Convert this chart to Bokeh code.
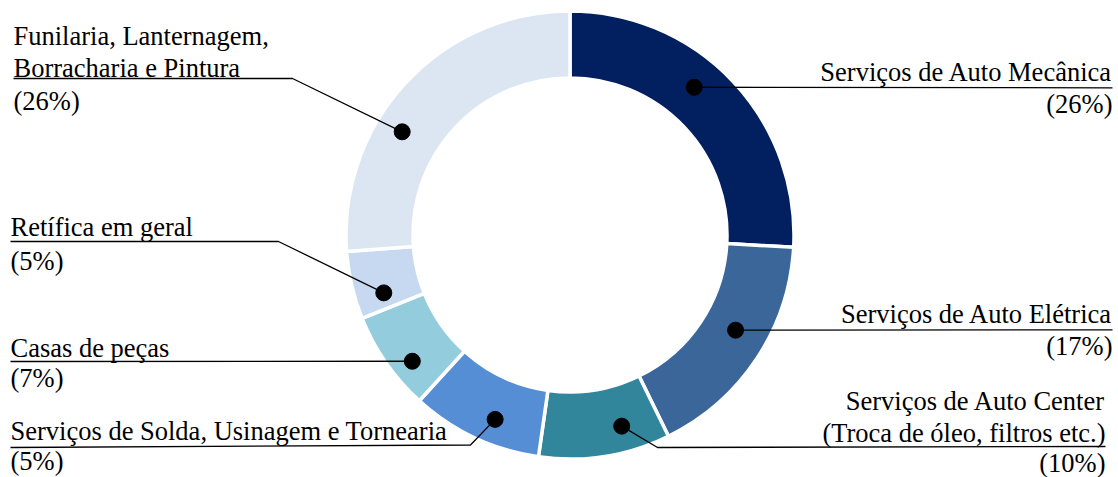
import math
from bokeh.plotting import figure
from bokeh.models import Range1d
from bokeh.core.properties import value
from bokeh.embed import file_html
from bokeh.resources import INLINE

# ---------------- data ----------------
categories = [
    "Serviços de Auto Mecânica",
    "Serviços de Auto Elétrica",
    "Serviços de Auto Center (Troca de óleo, filtros etc.)",
    "Serviços de Solda, Usinagem e Tornearia",
    "Casas de peças",
    "Retífica em geral",
    "Funilaria, Lanternagem, Borracharia e Pintura",
]
shares = [25.9, 16.9, 9.5, 9.5, 7.2, 4.9, 26.2]
pct_labels = ["(26%)", "(17%)", "(10%)", "(5%)", "(7%)", "(5%)", "(26%)"]
name_lines = [
    ["Serviços de Auto Mecânica"],
    ["Serviços de Auto Elétrica"],
    ["Serviços de Auto Center", "(Troca de óleo, filtros etc.)"],
    ["Serviços de Solda, Usinagem e Tornearia"],
    ["Casas de peças"],
    ["Retífica em geral"],
    ["Funilaria, Lanternagem,", "Borracharia e Pintura"],
]
colors = ["#022060", "#3B6699", "#31869B", "#558ED5", "#93CDDD", "#C6D9F1", "#DCE6F2"]

# ---------------- layout (image pixel coords) ----------------
W, H = 1118, 477
def px(X):
    return X
def py(Y):
    return H - Y

CX, CY = px(569.5), py(234.5)
R_OUT, R_IN = 222.5, 158.5
dot_frac = [0.43, 0.44, 0.32, 0.41, 0.35, 0.26, 0.38]
dot_rad = [193, 191, 198, 199, 202, 195, 197]
lab_side = ["right", "right", "right", "left", "left", "left", "left"]
lab_x = [1112, 1112, 1105, 10, 10, 10, 13]
lab_uy = [87.3, 329.3, 446, 447, 361, 241, 78]
lab_elbow = [None, None, (657, 447), (470, 444.5), None, (278, 241), (292, 78)]
name_gap = [8, 8.6, 6, 9, 6.5, 7, 3.5]
pct_gap = [24, 24, 23.5, 20.5, 24, 26.5, 30]
LINE_H = 32
BASE_SHIFT = 7.5
FONT = "Liberation Serif"
FSIZE = "26.5px"

p = figure(width=W, height=H, output_backend="svg", toolbar_location=None,
           x_range=Range1d(0, W), y_range=Range1d(0, H), min_border=0)
p.axis.visible = False
p.grid.visible = False
p.outline_line_color = None
p.background_fill_color = "white"
p.border_fill_color = "white"

total = sum(shares)
cum = 0.0
starts, ends, dots = [], [], []
for i, s in enumerate(shares):
    a0 = cum / total * 2 * math.pi
    a1 = (cum + s) / total * 2 * math.pi
    starts.append(math.pi / 2 - a0)
    ends.append(math.pi / 2 - a1)
    am = a0 + dot_frac[i] * (a1 - a0)
    dots.append((CX + dot_rad[i] * math.sin(am), CY + dot_rad[i] * math.cos(am)))
    cum += s

p.annular_wedge(x=CX, y=CY, inner_radius=R_IN - 1.5, outer_radius=R_OUT + 1.5,
                inner_radius_units="screen", outer_radius_units="screen",
                start_angle=starts, end_angle=ends, direction="clock",
                fill_color=colors, line_color="white", line_width=3.5)

# leader lines
for i in range(len(shares)):
    dx, dy = dots[i]
    uy = py(lab_uy[i])
    xs, ys = [dx], [dy]
    if lab_elbow[i] is not None:
        ex, ey = lab_elbow[i]
        xs.append(px(ex)); ys.append(py(ey))
    xs.append(px(lab_x[i])); ys.append(uy)
    p.line(xs, ys, line_color="black", line_width=1.3)

p.scatter([d[0] for d in dots], [d[1] for d in dots], size=16,
          fill_color="black", line_color="black")

# labels
for i in range(len(shares)):
    align = "right" if lab_side[i] == "right" else "left"
    uy_img = lab_uy[i]
    lines = name_lines[i]
    n = len(lines)
    xs, ys, ts = [], [], []
    for k, t in enumerate(lines):
        xs.append(px(lab_x[i]))
        ys.append(py(uy_img - name_gap[i] - BASE_SHIFT - (n - 1 - k) * LINE_H))
        ts.append(t)
    xs.append(px(lab_x[i])); ys.append(py(uy_img + pct_gap[i] - BASE_SHIFT)); ts.append(pct_labels[i])
    p.text(x=xs, y=ys, text=ts, text_align=align, text_baseline="alphabetic",
           text_font=value(FONT), text_font_size=FSIZE, text_color="black")

open("out.html", "w").write(file_html(p, INLINE))
